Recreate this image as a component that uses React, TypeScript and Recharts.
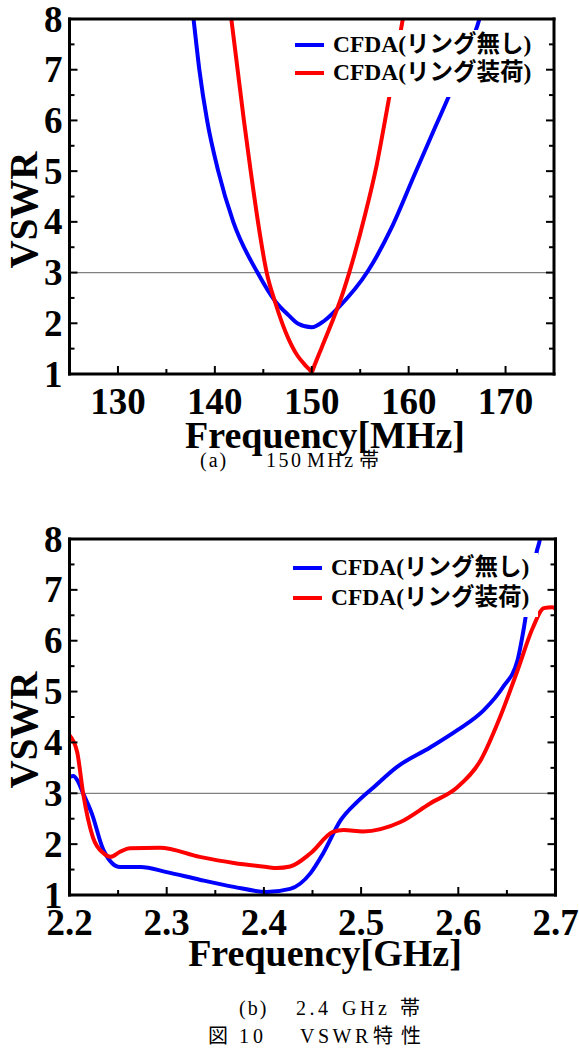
import { LineChart, Line, XAxis, YAxis, ReferenceLine } from 'recharts';

const serif = "'Liberation Serif', 'Times New Roman', 'Noto Sans CJK JP', serif";

// (a) 150 MHz band
const mhzBlueFreq = [137.5, 137.8, 138.4, 139.2, 140.35, 141.9, 144.4, 146.25, 147.6, 148.6, 150.0, 151.3, 152.7, 155.8, 158.2, 160.6, 162.7, 164.2, 165.8, 167.3, 167.7];
const mhzBlueVswr = [8.5, 8.0, 7.0, 6.0, 5.0, 4.0, 3.0, 2.43, 2.16, 1.99, 1.92, 2.05, 2.3, 3.03, 3.87, 4.93, 5.85, 6.5, 7.25, 8.0, 8.3];
const mhzRedFreq = [141.5, 141.7, 142.35, 143.0, 143.7, 144.45, 145.35, 146.2, 147.3, 148.5, 149.3, 149.7, 150.0, 150.3, 151.0, 152.0, 153.0, 153.9, 155.5, 156.7, 157.75, 158.6, 159.4, 159.7];
const mhzRedVswr = [8.3, 8.0, 7.0, 6.0, 5.0, 4.0, 3.0, 2.43, 1.83, 1.37, 1.18, 1.1, 1.04, 1.18, 1.51, 1.98, 2.48, 3.02, 4.14, 5.12, 6.2, 7.1, 8.0, 8.3];
const mhzTicks = [130, 140, 150, 160, 170];
const mhzMinor = [135, 145, 155, 165];

// (b) 2.4 GHz band
const ghzBlueFreq = [2.2, 2.204, 2.208, 2.214, 2.223, 2.235, 2.252, 2.273, 2.3, 2.334, 2.369, 2.403, 2.427, 2.448, 2.461, 2.479, 2.496, 2.513, 2.537, 2.571, 2.599, 2.626, 2.646, 2.661, 2.667, 2.674, 2.681, 2.684, 2.686];
const ghzBlueVswr = [3.32, 3.34, 3.26, 3.0, 2.6, 1.88, 1.55, 1.55, 1.45, 1.3, 1.16, 1.06, 1.12, 1.43, 1.82, 2.47, 2.83, 3.12, 3.52, 3.9, 4.24, 4.63, 5.09, 5.62, 6.2, 7.05, 7.78, 8.0, 8.3];
const ghzRedFreq = [2.2, 2.208, 2.214, 2.224, 2.235, 2.242, 2.252, 2.262, 2.293, 2.334, 2.369, 2.403, 2.413, 2.427, 2.448, 2.471, 2.482, 2.502, 2.54, 2.571, 2.599, 2.623, 2.643, 2.661, 2.677, 2.688, 2.697, 2.7];
const ghzRedVswr = [4.14, 3.8, 3.0, 2.14, 1.82, 1.75, 1.85, 1.92, 1.93, 1.75, 1.63, 1.55, 1.53, 1.56, 1.82, 2.24, 2.28, 2.25, 2.43, 2.8, 3.12, 3.65, 4.5, 5.42, 6.27, 6.64, 6.66, 6.62];
const ghzTicks = [2.2, 2.3, 2.4, 2.5, 2.6, 2.7];
const ghzMinor = [2.25, 2.35, 2.45, 2.55, 2.65];

const vswrTicks = [1, 2, 3, 4, 5, 6, 7, 8];
const vswrMinor = [1.5, 2.5, 3.5, 4.5, 5.5, 6.5, 7.5];
const legendNames = ['CFDA(リング無し)', 'CFDA(リング装荷)'];
const seriesColors = ['#0000ff', '#ff0000'];

// caption words, split so each lands where the figure puts it
const captionA = ['(a)', '150', 'MHz', '帯'];
const captionB = ['(b)', '2.4', 'GHz', '帯'];
const captionFig = ['図', '10', 'VSWR', '特性'];

const zip = (f: number[], v: number[]) => f.map((x, i) => ({ f: x, v: v[i] }));

const frame = { stroke: '#000', strokeWidth: 3, strokeLinecap: 'square' as const };
const labelFont = { fontSize: 37, fontWeight: 'bold' as const, fill: '#000', fontFamily: serif };

type Side = 'bottom' | 'top' | 'left' | 'right';

// inward tick marks (long on majors, short on minors) plus the major labels
function tickMark(side: Side, majors: number[], fmt?: (v: number) => string) {
  return function TickMark(props: any) {
    const { x, y, payload } = props;
    const v = payload.value as number;
    const major = majors.some((m) => Math.abs(m - v) < 1e-6);
    const len = major ? 8 : 5;
    let x2 = x;
    let y2 = y;
    if (side === 'bottom') y2 = y - len;
    else if (side === 'top') y2 = y + len;
    else if (side === 'left') x2 = x + len;
    else x2 = x - len;
    return (
      <g>
        <line x1={x} y1={y} x2={x2} y2={y2} stroke="#000" strokeWidth={2} />
        {major && fmt && side === 'bottom' && (
          <text x={x} y={y + 39.5} textAnchor="middle" {...labelFont}>{fmt(v)}</text>
        )}
        {major && fmt && side === 'left' && (
          <text x={x - 7} y={y + 12.5} textAnchor="end" {...labelFont}>{fmt(v)}</text>
        )}
      </g>
    );
  };
}

interface PanelProps {
  top: number;
  blue: { f: number; v: number }[];
  red: { f: number; v: number }[];
  domain: [number, number];
  ticks: number[];
  minor: number[];
  fmt: (v: number) => string;
  margin: { top: number; right: number; bottom: number; left: number };
  title: string;
  titleTop: number;
  vswrCenter: number;
  legend: { left: number; top: number; width: number; row: number; pad: number; gap: number };
}

function Panel(p: PanelProps) {
  const xAll = [...p.ticks, ...p.minor].sort((a, b) => a - b);
  const yAll = [...vswrTicks, ...vswrMinor].sort((a, b) => a - b);
  const common = { tickSize: 0, tickMargin: 0, tickLine: false, axisLine: frame, allowDataOverflow: true, interval: 0 as const };
  return (
    <div style={{ position: 'absolute', left: 0, top: p.top, width: 579, height: 460 }}>
      <LineChart width={579} height={460} margin={p.margin}>
        <XAxis xAxisId="b" orientation="bottom" type="number" dataKey="f" domain={p.domain} ticks={xAll}
          tick={tickMark('bottom', p.ticks, p.fmt)} height={1} {...common} />
        <XAxis xAxisId="t" orientation="top" type="number" domain={p.domain} ticks={xAll}
          tick={tickMark('top', p.ticks)} height={1} {...common} />
        <YAxis yAxisId="l" orientation="left" type="number" domain={[1, 8]} ticks={yAll}
          tick={tickMark('left', vswrTicks, (v) => String(v))} width={1} {...common} />
        <YAxis yAxisId="r" orientation="right" type="number" domain={[1, 8]} ticks={yAll}
          tick={tickMark('right', vswrTicks)} width={1} {...common} />
        <ReferenceLine xAxisId="b" yAxisId="l" y={3} stroke="#808080" strokeWidth={1.2} />
        <Line xAxisId="b" yAxisId="l" data={p.blue} dataKey="v" type="monotone" stroke={seriesColors[0]}
          strokeWidth={4} dot={false} activeDot={false} isAnimationActive={false} />
        <Line xAxisId="b" yAxisId="l" data={p.red} dataKey="v" type="monotone" stroke={seriesColors[1]}
          strokeWidth={4} dot={false} activeDot={false} isAnimationActive={false} />
      </LineChart>

      {/* y-axis title */}
      <div style={{
        position: 'absolute', left: 23, top: p.vswrCenter, transform: 'translate(-50%, -50%) rotate(-90deg)',
        fontFamily: serif, fontWeight: 'bold', fontSize: 39, lineHeight: 1, whiteSpace: 'nowrap',
      }}>VSWR</div>

      {/* x-axis title */}
      <div style={{
        position: 'absolute', left: 325, top: p.titleTop, transform: 'translateX(-50%)',
        fontFamily: serif, fontWeight: 'bold', fontSize: 38, lineHeight: '20px', whiteSpace: 'nowrap',
      }}>{p.title}</div>

      {/* legend, opaque box over the curves */}
      <div style={{
        position: 'absolute', left: p.legend.left, top: p.legend.top, width: p.legend.width,
        paddingTop: p.legend.pad, paddingBottom: p.legend.gap, background: '#fff',
      }}>
        {legendNames.map((name, i) => (
          <div key={name} style={{ display: 'flex', alignItems: 'center', height: p.legend.row }}>
            <div style={{ width: 29, height: 4, background: seriesColors[i], marginLeft: 5, marginRight: 9 }} />
            <span style={{ fontFamily: serif, fontWeight: 'bold', fontSize: 23.5, lineHeight: 1, whiteSpace: 'nowrap' }}>
              {name}
            </span>
          </div>
        ))}
      </div>
    </div>
  );
}

function Caption({ words, lefts, top, spacing }: { words: string[]; lefts: number[]; top: number; spacing: number[] }) {
  return (
    <>
      {words.map((w, i) => (
        <span key={w + i} style={{
          position: 'absolute', left: lefts[i], top, fontFamily: serif, fontSize: 20, lineHeight: '15px',
          letterSpacing: spacing[i], whiteSpace: 'nowrap', color: '#000',
        }}>{w}</span>
      ))}
    </>
  );
}

export default function App() {
  return (
    <div style={{ position: 'absolute', left: 0, top: 0, width: 579, height: 1051, background: '#fff', overflow: 'hidden' }}>
      <Panel
        top={0}
        blue={zip(mhzBlueFreq, mhzBlueVswr)}
        red={zip(mhzRedFreq, mhzRedVswr)}
        domain={[125, 175]}
        ticks={mhzTicks}
        minor={mhzMinor}
        fmt={(v) => String(v)}
        margin={{ top: 18, right: 24, bottom: 85, left: 68.5 }}
        title="Frequency[MHz]"
        titleTop={425}
        vswrCenter={210}
        legend={{ left: 290, top: 30, width: 255, row: 28, pad: 1, gap: 10 }}
      />
      <Panel
        top={520}
        blue={zip(ghzBlueFreq, ghzBlueVswr)}
        red={zip(ghzRedFreq, ghzRedVswr)}
        domain={[2.2, 2.7]}
        ticks={ghzTicks}
        minor={ghzMinor}
        fmt={(v) => v.toFixed(1)}
        margin={{ top: 18, right: 22.5, bottom: 84, left: 68.5 }}
        title="Frequency[GHz]"
        titleTop={422.5}
        vswrCenter={210}
        legend={{ left: 288, top: 33, width: 250, row: 30, pad: 0, gap: 4 }}
      />
      <Caption words={captionA} lefts={[200, 266, 307, 359]} top={453} spacing={[2, 2.5, 2.5, 0]} />
      <Caption words={captionB} lefts={[239, 296, 342, 400]} top={1001} spacing={[2, 3.5, 3.5, 0]} />
      <Caption words={captionFig} lefts={[208, 239, 300, 373]} top={1029} spacing={[0, 4, 3.5, 8]} />
    </div>
  );
}
